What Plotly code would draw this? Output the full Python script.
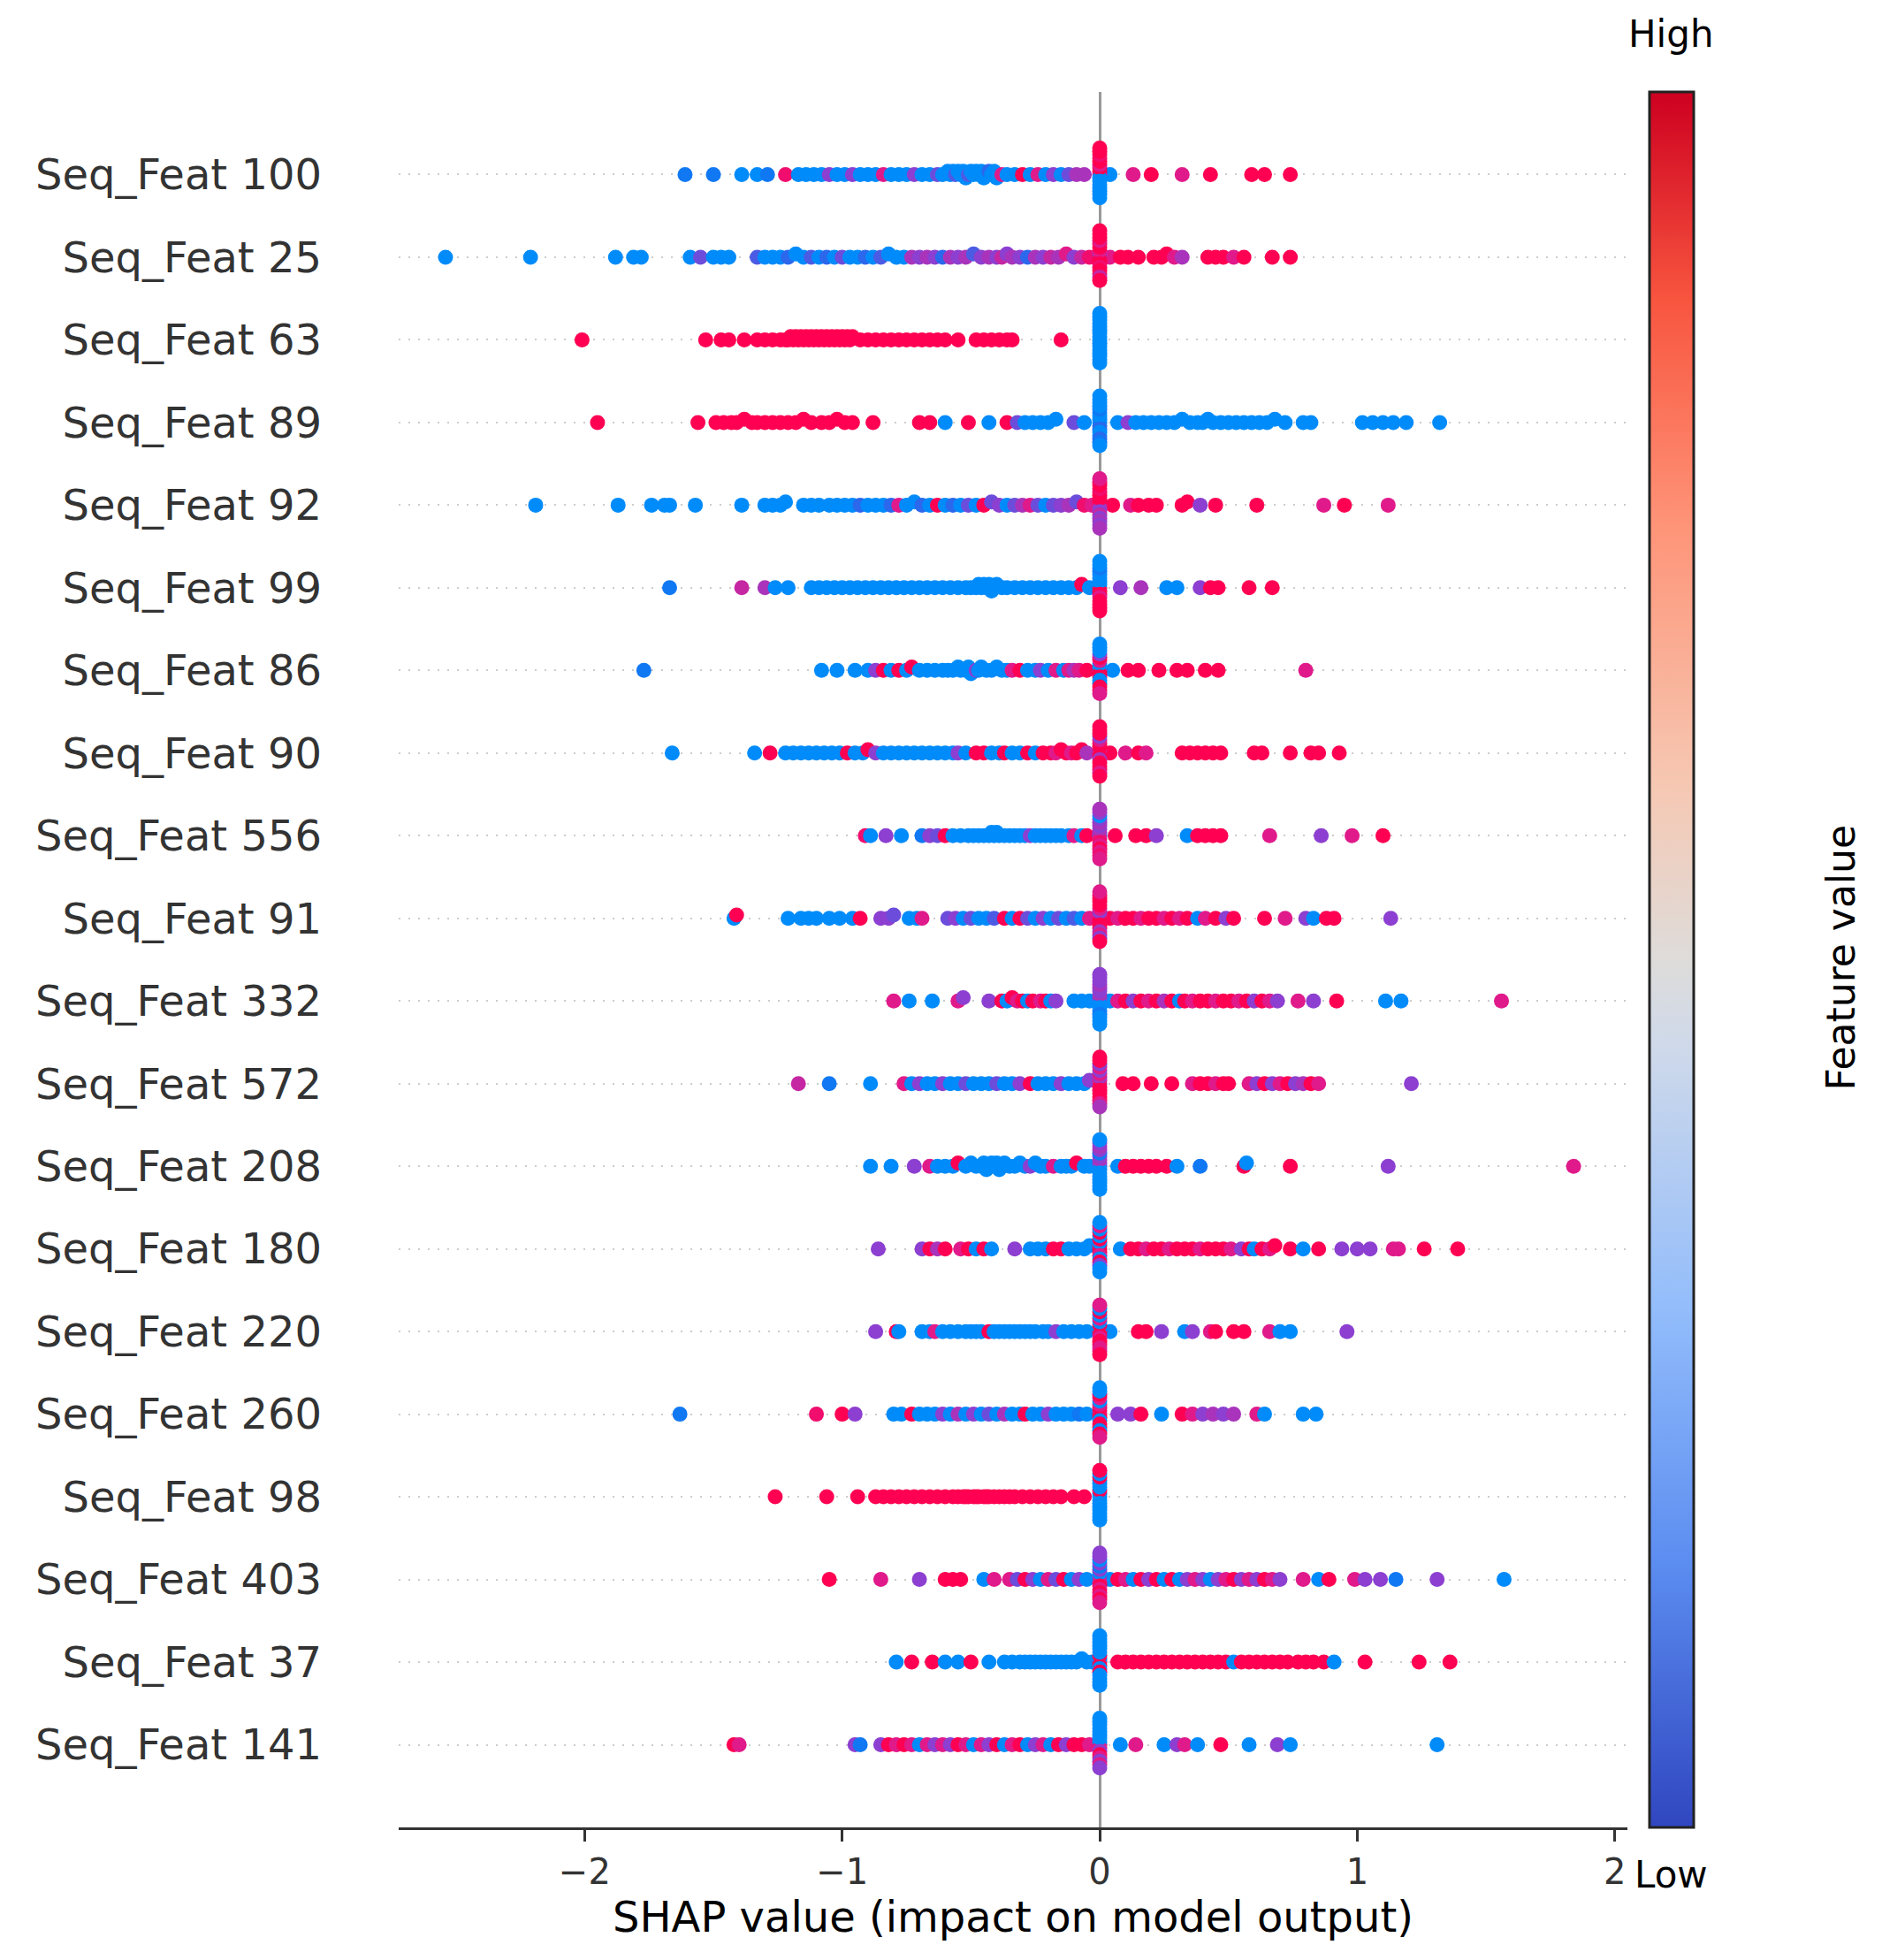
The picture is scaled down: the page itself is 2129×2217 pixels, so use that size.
import numpy as np
import plotly.graph_objects as go

# =========================================================
# Data
# =========================================================
FEATURES = [
    "Seq_Feat 100", "Seq_Feat 25", "Seq_Feat 63", "Seq_Feat 89", "Seq_Feat 92",
    "Seq_Feat 99", "Seq_Feat 86", "Seq_Feat 90", "Seq_Feat 556", "Seq_Feat 91",
    "Seq_Feat 332", "Seq_Feat 572", "Seq_Feat 208", "Seq_Feat 180", "Seq_Feat 220",
    "Seq_Feat 260", "Seq_Feat 98", "Seq_Feat 403", "Seq_Feat 37", "Seq_Feat 141",
]

# (SHAP value, feature value on a 0-10 scale) for samples with a non-zero impact
F100 = [(-1.61,1),(-1.50,1),(-1.39,0),(-1.33,0),(-1.29,1),(-1.22,9),
        (-1.17,0),(-1.14,0),(-1.11,0),(-1.08,0),(-1.05,5),(-1.02,0),(-0.99,0),(-0.96,5),(-0.93,0),(-0.90,0),
        (-0.87,0),(-0.84,8),(-0.81,0),(-0.78,0),(-0.75,0),(-0.72,5),(-0.69,0),(-0.66,0),(-0.63,4),(-0.61,0),
        (-0.59,0),(-0.58,0),(-0.57,0),(-0.56,3),(-0.55,0),(-0.54,0),(-0.53,0),(-0.52,0),(-0.51,3),(-0.50,0),
        (-0.49,0),(-0.48,0),(-0.47,0),(-0.46,0),(-0.45,0),(-0.44,0),(-0.43,2),(-0.42,0),(-0.41,0),(-0.40,0),
        (-0.38,8),(-0.36,0),(-0.33,0),(-0.30,10),(-0.27,0),(-0.24,8),(-0.21,0),(-0.18,5),(-0.15,0),(-0.12,4),
        (-0.09,6),(-0.06,6),
        (0.04,0),(0.13,8),(0.20,10),(0.32,8),(0.43,10),(0.59,10),(0.64,10),(0.74,10)]
F25 = [(-2.54,0),(-2.21,0),(-1.88,0),(-1.81,0),(-1.78,0),(-1.59,0),(-1.55,4),(-1.50,0),(-1.47,0),(-1.44,0),
       (-1.33,3),(-1.30,0),(-1.27,0),(-1.24,0),(-1.21,2),(-1.18,0),(-1.15,0),(-1.12,3),(-1.09,0),(-1.06,2),
       (-1.03,0),(-1.00,4),(-0.97,0),(-0.94,0),(-0.91,2),(-0.88,0),(-0.85,3),(-0.82,0),(-0.79,0),(-0.76,0),
       (-0.73,6),(-0.70,5),(-0.67,6),(-0.64,5),(-0.61,2),(-0.58,6),(-0.55,5),(-0.52,6),(-0.49,3),(-0.46,5),
       (-0.43,6),(-0.40,5),(-0.38,7),(-0.36,5),(-0.34,6),(-0.31,5),(-0.28,2),(-0.25,6),(-0.22,5),(-0.19,7),
       (-0.16,6),(-0.13,8),(-0.10,5),(-0.07,7),(-0.04,9),
       (0.04,8),(0.08,10),(0.11,10),(0.15,10),(0.21,10),(0.24,10),(0.26,10),(0.29,8),(0.32,6),(0.42,10),
       (0.45,10),(0.48,10),(0.52,8),(0.56,10),(0.67,10),(0.74,10)]
F63 = [(-2.01,10),(-1.53,10),(-1.47,10),(-1.44,10),(-1.38,10),(-1.33,10),(-1.30,10),(-1.27,10),(-1.24,10),
       (-1.22,10),(-1.21,10),(-1.20,10),(-1.19,10),(-1.18,10),(-1.17,10),(-1.16,10),(-1.15,10),(-1.14,10),
       (-1.13,10),(-1.12,10),(-1.11,10),(-1.10,10),(-1.09,10),(-1.08,10),(-1.07,10),(-1.06,10),(-1.05,10),
       (-1.04,10),(-1.03,10),(-1.02,10),(-1.01,10),(-1.00,10),(-0.99,10),(-0.98,10),(-0.97,10),(-0.96,10),
       (-0.93,10),(-0.90,10),(-0.87,10),(-0.84,10),(-0.81,10),(-0.78,10),(-0.75,10),(-0.72,10),(-0.69,10),
       (-0.66,10),(-0.63,10),(-0.60,10),(-0.55,10),(-0.48,10),(-0.45,10),(-0.42,10),(-0.39,10),(-0.36,10),
       (-0.34,10),(-0.15,10)]
F89 = [(-1.95,10),(-1.56,10),(-1.49,10),(-1.46,10),(-1.43,10),(-1.41,10),(-1.38,10),(-1.35,10),(-1.33,10),
       (-1.30,10),(-1.27,10),(-1.24,10),(-1.21,10),(-1.18,10),(-1.15,10),(-1.12,10),(-1.08,10),(-1.05,10),
       (-1.02,10),(-0.99,10),(-0.96,10),(-0.88,10),(-0.70,10),(-0.66,10),(-0.60,0),(-0.51,10),(-0.43,0),
       (-0.36,10),(-0.32,4),(-0.29,0),(-0.26,0),(-0.23,0),(-0.20,0),(-0.17,0),(-0.10,4),(-0.06,0),
       (0.07,0),(0.11,5),(0.14,0),(0.17,0),(0.20,0),(0.23,0),(0.26,0),(0.29,0),(0.32,0),(0.35,0),(0.38,0),
       (0.40,0),(0.42,0),(0.44,0),(0.47,0),(0.50,0),(0.53,0),(0.56,0),(0.59,0),(0.62,0),(0.65,0),(0.68,0),
       (0.72,0),(0.79,0),(0.82,0),(1.02,0),(1.06,0),(1.10,0),(1.14,0),(1.19,0),(1.32,0)]
F92 = [(-2.19,0),(-1.87,0),(-1.74,0),(-1.69,0),(-1.67,0),(-1.57,0),(-1.39,0),(-1.30,0),(-1.27,0),(-1.24,0),
       (-1.22,0),(-1.15,0),(-1.12,0),(-1.09,0),(-1.05,0),(-1.02,0),(-0.99,0),(-0.96,0),(-0.93,2),(-0.90,0),
       (-0.87,0),(-0.84,0),(-0.81,2),(-0.78,8),(-0.75,0),(-0.72,0),(-0.69,2),(-0.66,0),(-0.63,10),(-0.60,0),
       (-0.57,2),(-0.54,0),(-0.51,4),(-0.48,0),(-0.45,10),(-0.42,4),(-0.39,5),(-0.36,0),(-0.33,4),(-0.30,6),
       (-0.27,8),(-0.24,4),(-0.21,0),(-0.18,4),(-0.15,5),(-0.12,6),(-0.09,4),(-0.06,9),(-0.03,8),
       (0.05,10),(0.12,8),(0.15,10),(0.19,10),(0.22,10),(0.32,10),(0.34,10),(0.39,5),(0.45,10),(0.61,10),
       (0.87,8),(0.95,10),(1.12,8)]
F99 = [(-1.67,1),(-1.39,7),(-1.30,6),(-1.26,0),(-1.21,0),
       (-1.12,0),(-1.09,0),(-1.06,0),(-1.03,0),(-1.00,0),(-0.97,0),(-0.94,0),(-0.91,0),(-0.88,0),(-0.85,0),
       (-0.82,0),(-0.79,0),(-0.76,0),(-0.73,0),(-0.70,0),(-0.67,0),(-0.64,0),(-0.61,0),(-0.58,0),(-0.55,0),
       (-0.52,0),(-0.50,0),(-0.48,0),(-0.47,0),(-0.46,0),(-0.45,0),(-0.44,0),(-0.43,0),(-0.42,0),(-0.41,0),
       (-0.40,0),(-0.38,0),(-0.36,0),(-0.33,0),(-0.30,0),(-0.27,0),(-0.24,0),(-0.21,0),(-0.18,0),(-0.15,0),
       (-0.12,0),(-0.09,0),(-0.07,10),(-0.04,0),
       (0.08,5),(0.16,6),(0.26,0),(0.30,0),(0.39,5),(0.43,10),(0.46,10),(0.58,10),(0.67,10)]
F86 = [(-1.77,1),(-1.08,0),(-1.02,0),(-0.95,0),(-0.90,0),(-0.87,5),(-0.84,10),(-0.81,0),(-0.78,10),(-0.75,0),
       (-0.73,10),(-0.70,0),(-0.67,0),(-0.64,0),(-0.61,0),(-0.59,0),(-0.57,0),(-0.55,0),(-0.54,0),(-0.52,0),
       (-0.51,0),(-0.50,0),(-0.48,5),(-0.47,0),(-0.46,0),(-0.44,0),(-0.42,0),(-0.40,0),(-0.38,0),(-0.36,0),
       (-0.34,8),(-0.31,10),(-0.28,0),(-0.25,0),(-0.23,5),(-0.20,0),(-0.17,8),(-0.14,0),(-0.12,8),(-0.10,6),
       (-0.08,8),(-0.05,10),
       (0.05,0),(0.11,10),(0.15,10),(0.23,10),(0.30,10),(0.34,10),(0.41,10),(0.46,10),(0.80,8)]
F90 = [(-1.66,0),(-1.34,0),(-1.28,10),(-1.22,0),(-1.19,0),(-1.16,0),(-1.13,0),(-1.10,0),(-1.07,0),(-1.04,0),
       (-1.01,0),(-0.98,10),(-0.95,0),(-0.92,0),(-0.90,10),(-0.87,5),(-0.84,0),(-0.81,0),(-0.78,0),(-0.75,0),
       (-0.72,0),(-0.69,0),(-0.66,0),(-0.63,0),(-0.60,0),(-0.57,0),(-0.55,5),(-0.52,0),(-0.48,10),(-0.45,10),
       (-0.42,0),(-0.39,0),(-0.37,10),(-0.34,0),(-0.31,0),(-0.28,10),(-0.25,0),(-0.22,10),(-0.19,10),(-0.17,8),
       (-0.15,10),(-0.13,10),(-0.11,8),(-0.09,10),(-0.07,10),(-0.05,6),
       (0.04,10),(0.10,8),(0.15,10),(0.18,8),(0.32,10),(0.35,10),(0.38,10),(0.41,10),(0.44,10),(0.47,10),
       (0.60,10),(0.63,10),(0.74,10),(0.82,10),(0.85,10),(0.93,10)]
F556 = [(-0.91,9),(-0.89,0),(-0.83,5),(-0.77,0),(-0.69,1),(-0.66,5),(-0.63,4),(-0.60,10),(-0.57,0),(-0.54,0),
        (-0.51,0),(-0.49,0),(-0.47,0),(-0.45,0),(-0.43,0),(-0.42,0),(-0.41,0),(-0.40,0),(-0.39,0),(-0.37,0),
        (-0.35,0),(-0.33,0),(-0.31,0),(-0.29,0),(-0.27,5),(-0.25,0),(-0.23,0),(-0.21,0),(-0.19,0),(-0.17,0),
        (-0.15,0),(-0.12,0),(-0.10,8),(-0.07,0),(-0.05,10),
        (0.06,10),(0.14,10),(0.18,10),(0.22,5),(0.34,0),(0.38,10),(0.41,10),(0.44,10),(0.47,10),(0.66,8),
        (0.86,5),(0.98,8),(1.10,10)]
F91 = [(-1.42,0),(-1.41,10),(-1.21,0),(-1.16,0),(-1.13,0),(-1.10,0),(-1.05,0),(-1.01,0),(-0.96,0),(-0.93,10),
       (-0.85,5),(-0.82,5),(-0.80,4),(-0.74,0),(-0.71,0),(-0.69,8),
       (-0.59,4),(-0.56,5),(-0.53,0),(-0.50,4),(-0.47,0),(-0.44,0),(-0.41,3),(-0.37,10),(-0.34,0),(-0.31,10),
       (-0.28,4),(-0.25,0),(-0.22,5),(-0.19,0),(-0.16,4),(-0.13,0),(-0.10,3),(-0.07,0),(-0.04,8),
       (0.04,10),(0.07,8),(0.10,10),(0.13,10),(0.16,8),(0.19,10),(0.22,10),(0.25,8),(0.28,10),(0.31,8),
       (0.34,10),(0.38,0),(0.41,8),(0.45,10),(0.49,5),(0.52,10),(0.64,10),(0.72,8),(0.80,5),(0.83,0),
       (0.88,10),(0.91,10),(1.13,5)]
F332 = [(-0.80,8),(-0.74,0),(-0.65,0),(-0.55,8),(-0.53,5),(-0.43,5),(-0.38,10),(-0.36,0),(-0.34,10),(-0.32,8),
        (-0.30,10),(-0.28,0),(-0.26,10),(-0.23,8),(-0.21,10),(-0.19,0),(-0.17,5),(-0.10,0),(-0.07,0),(-0.04,0),
        (0.04,0),(0.07,8),(0.10,10),(0.13,5),(0.16,10),(0.19,8),(0.22,10),(0.25,6),(0.28,10),(0.31,0),
        (0.33,10),(0.36,8),(0.39,10),(0.42,10),(0.45,8),(0.48,10),(0.51,10),(0.54,8),(0.57,10),(0.60,5),
        (0.63,10),(0.66,8),(0.69,5),(0.77,8),(0.83,5),(0.92,10),(1.11,0),(1.17,0),(1.56,8)]
F572 = [(-1.17,7),(-1.05,1),(-0.89,0),(-0.76,8),(-0.73,0),(-0.70,5),(-0.67,0),(-0.64,0),(-0.61,5),(-0.58,0),
        (-0.55,0),(-0.52,4),(-0.49,0),(-0.46,0),(-0.43,0),(-0.40,4),(-0.37,0),(-0.34,0),(-0.31,5),(-0.27,10),
        (-0.24,0),(-0.21,0),(-0.18,0),(-0.15,5),(-0.12,0),(-0.09,0),(-0.06,0),(-0.04,5),
        (0.09,10),(0.13,10),(0.20,10),(0.28,10),(0.36,8),(0.39,10),(0.42,10),(0.45,8),(0.48,10),(0.50,10),
        (0.58,8),(0.61,5),(0.64,10),(0.67,5),(0.70,8),(0.73,10),(0.76,5),(0.79,6),(0.82,10),(0.85,8),(1.21,5)]
F208 = [(-0.89,0),(-0.81,0),(-0.72,5),(-0.66,8),(-0.63,0),(-0.60,0),(-0.57,0),(-0.55,10),(-0.52,0),(-0.50,0),
        (-0.48,0),(-0.46,0),(-0.45,0),(-0.44,0),(-0.43,0),(-0.42,0),(-0.41,0),(-0.40,0),(-0.39,0),(-0.38,0),
        (-0.37,0),(-0.35,0),(-0.33,0),(-0.31,0),(-0.29,0),(-0.27,5),(-0.25,0),(-0.23,0),(-0.21,0),(-0.18,8),
        (-0.15,0),(-0.13,0),(-0.11,0),(-0.09,10),(-0.06,0),(-0.04,0),
        (0.07,0),(0.10,10),(0.13,10),(0.16,10),(0.19,10),(0.22,10),(0.26,10),(0.30,0),(0.39,1),(0.56,10),
        (0.57,0),(0.74,10),(1.12,5),(1.84,8)]
F180 = [(-0.86,5),(-0.69,5),(-0.66,10),(-0.63,6),(-0.60,10),(-0.54,8),(-0.51,10),(-0.48,0),(-0.45,10),(-0.42,0),
        (-0.33,5),(-0.27,0),(-0.24,0),(-0.21,0),(-0.18,10),(-0.15,10),(-0.12,0),(-0.09,0),(-0.06,0),(-0.04,0),
        (0.08,0),(0.12,10),(0.15,10),(0.18,8),(0.21,10),(0.24,10),(0.27,8),(0.30,10),(0.33,10),(0.36,10),
        (0.39,8),(0.42,10),(0.45,10),(0.48,10),(0.51,8),(0.55,5),(0.58,10),(0.60,0),(0.63,10),(0.66,8),
        (0.68,10),(0.74,10),(0.79,0),(0.85,10),(0.94,5),(1.00,5),(1.05,5),(1.14,8),(1.16,8),(1.26,10),(1.39,10)]
F220 = [(-0.87,5),(-0.79,10),(-0.78,0),(-0.69,0),(-0.66,0),(-0.64,8),(-0.61,0),(-0.58,0),(-0.55,0),(-0.52,0),
        (-0.50,0),(-0.48,0),(-0.46,0),(-0.43,10),(-0.41,0),(-0.39,0),(-0.37,0),(-0.35,0),(-0.33,0),(-0.31,0),
        (-0.29,0),(-0.27,0),(-0.25,0),(-0.22,0),(-0.20,0),(-0.17,5),(-0.14,0),(-0.11,0),(-0.08,0),(-0.05,0),
        (0.04,0),(0.15,10),(0.18,10),(0.24,5),(0.33,0),(0.36,5),(0.43,8),(0.45,10),(0.52,10),(0.56,10),
        (0.66,8),(0.70,0),(0.74,0),(0.96,5)]
F260 = [(-1.63,1),(-1.10,9),(-1.00,10),(-0.95,5),(-0.80,0),(-0.77,0),(-0.73,10),(-0.70,0),(-0.67,0),(-0.64,0),
        (-0.61,5),(-0.58,0),(-0.55,6),(-0.52,0),(-0.49,5),(-0.46,0),(-0.43,4),(-0.40,0),(-0.37,6),(-0.34,0),
        (-0.31,0),(-0.29,10),(-0.26,0),(-0.23,0),(-0.20,5),(-0.17,0),(-0.14,0),(-0.11,0),(-0.08,1),(-0.05,0),
        (0.07,5),(0.12,5),(0.16,10),(0.24,0),(0.32,10),(0.36,8),(0.40,5),(0.44,6),(0.48,5),(0.52,6),
        (0.61,8),(0.64,0),(0.79,0),(0.84,0)]
F98 = [(-1.26,10),(-1.06,10),(-0.94,10),(-0.87,10),(-0.84,10),(-0.81,10),(-0.78,10),(-0.75,10),(-0.72,10),
       (-0.69,10),(-0.66,10),(-0.63,10),(-0.60,10),(-0.57,10),(-0.55,10),(-0.53,10),(-0.52,10),(-0.51,10),
       (-0.49,10),(-0.48,10),(-0.47,10),(-0.45,10),(-0.44,10),(-0.43,10),(-0.41,10),(-0.39,10),(-0.37,10),
       (-0.35,10),(-0.33,10),(-0.30,10),(-0.27,10),(-0.24,10),(-0.21,10),(-0.18,10),(-0.15,10),(-0.10,10),
       (-0.06,10)]
F403 = [(-1.05,10),(-0.85,8),(-0.70,5),(-0.60,10),(-0.57,10),(-0.54,10),(-0.45,0),(-0.41,8),(-0.35,8),(-0.32,4),
        (-0.29,10),(-0.26,5),(-0.23,0),(-0.20,8),(-0.17,4),(-0.14,10),(-0.11,0),(-0.08,5),(-0.05,0),
        (0.04,0),(0.07,10),(0.10,8),(0.13,0),(0.16,10),(0.19,5),(0.22,10),(0.25,0),(0.28,10),(0.31,0),
        (0.34,5),(0.37,8),(0.40,5),(0.43,0),(0.46,5),(0.49,8),(0.52,10),(0.55,5),(0.58,8),(0.61,5),
        (0.64,10),(0.67,8),(0.70,5),(0.79,8),(0.85,0),(0.89,10),(0.99,8),(1.03,5),(1.09,5),(1.15,1),
        (1.31,5),(1.57,0)]
F37 = [(-0.79,0),(-0.73,10),(-0.65,10),(-0.60,0),(-0.55,0),(-0.50,10),(-0.43,0),(-0.37,0),(-0.34,0),(-0.31,0),
       (-0.29,0),(-0.27,0),(-0.25,0),(-0.23,0),(-0.21,0),(-0.19,0),(-0.17,0),(-0.15,0),(-0.13,0),(-0.11,0),
       (-0.09,0),(-0.07,0),(-0.05,0),(-0.03,0),
       (0.07,10),(0.10,10),(0.13,10),(0.16,10),(0.19,10),(0.22,10),(0.25,10),(0.28,10),(0.31,10),(0.34,10),
       (0.37,10),(0.40,10),(0.43,10),(0.46,10),(0.49,10),(0.52,0),(0.55,10),(0.58,10),(0.61,10),(0.64,10),
       (0.67,10),(0.70,10),(0.73,10),(0.77,10),(0.80,10),(0.83,10),(0.87,10),(0.91,0),(1.03,10),(1.24,10),
       (1.36,10)]
F141 = [(-1.42,10),(-1.40,8),(-0.95,5),(-0.93,1),(-0.85,5),(-0.82,10),(-0.79,8),(-0.76,10),(-0.73,8),(-0.70,0),
        (-0.67,8),(-0.64,5),(-0.61,8),(-0.58,5),(-0.55,10),(-0.52,8),(-0.49,0),(-0.46,8),(-0.43,5),(-0.40,10),
        (-0.37,0),(-0.34,8),(-0.31,10),(-0.28,0),(-0.25,5),(-0.22,8),(-0.19,0),(-0.16,10),(-0.13,5),(-0.10,10),
        (-0.07,10),(-0.04,8),
        (0.08,0),(0.14,8),(0.25,0),(0.30,5),(0.33,8),(0.38,0),(0.47,10),(0.58,0),(0.69,5),(0.74,0),(1.31,0)]

# feature values (0-10) of the samples whose SHAP value is exactly 0, in stacking order
Z100 = [6,10,0,10,0,8,0,10,0,10,0,9,0,10,0,10]
Z25 = [10,6,10,8,10,10,9,10,10,8,10,10,7,10,10,10]
Z63 = [0,0,0,0,0,0,0,0,0,0,0,0,0,0,0,0]
Z89 = [0,0,1,0,2,0,0,1,0,0,2,0,1,0,0,0]
Z92 = [8,10,6,10,5,10,7,10,5,9,6,10,5,10,6,8]
Z99 = [10,0,10,0,10,0,8,0,10,0,10,1,10,0,10,0]
Z86 = [8,0,10,0,10,8,0,10,0,5,10,0,10,0,8,0]
Z90 = [10,8,10,10,6,10,10,8,10,5,10,10,8,10,10,10]
Z556 = [0,5,8,6,9,5,8,6,10,5,8,0,9,5,8,6]
Z91 = [10,8,10,5,10,8,10,10,6,10,8,10,5,10,10,8]
Z332 = [0,5,0,6,0,5,0,5,1,6,0,5,0,5,0,5]
Z572 = [5,8,10,6,10,8,10,5,10,8,10,5,8,10,6,10]
Z208 = [0,5,0,6,0,5,0,1,0,5,0,6,0,5,0,0]
Z180 = [10,10,10,0,8,10,0,0,10,10,5,0,0,8,0,0]
Z220 = [10,0,10,10,8,0,10,8,10,0,8,10,8,0,10,8]
Z260 = [10,8,10,10,0,8,10,0,10,8,0,10,10,0,8,0]
Z98 = [0,0,0,10,0,0,0,0,0,0,0,10,0,0,0,10]
Z403 = [0,5,8,0,10,5,8,1,10,5,8,0,10,5,8,5]
Z37 = [10,0,10,10,0,0,10,0,0,0,0,0,0,0,0,0]
Z141 = [10,0,8,0,5,0,10,0,8,0,5,0,8,0,5,0]

ROWS = [(F100, Z100), (F25, Z25), (F63, Z63), (F89, Z89), (F92, Z92),
        (F99, Z99), (F86, Z86), (F90, Z90), (F556, Z556), (F91, Z91),
        (F332, Z332), (F572, Z572), (F208, Z208), (F180, Z180), (F220, Z220),
        (F260, Z260), (F98, Z98), (F403, Z403), (F37, Z37), (F141, Z141)]

# shap's red/blue point map and the coolwarm-style bar
POINT_SCALE = [[0.0, "#008bfb"], [0.15, "#1a6ff0"], [0.35, "#5c54e0"], [0.5, "#8c3fd0"],
               [0.65, "#b82eb0"], [0.8, "#e01a8a"], [1.0, "#ff0052"]]
BAR_SCALE = [[0.0, "#3046c0"], [0.15, "#5b8cf0"], [0.3, "#93bdfb"], [0.45, "#cfd9ea"],
             [0.5, "#dedcda"], [0.6, "#f6c8b3"], [0.75, "#fe9478"], [0.88, "#f8553f"], [1.0, "#cd0020"]]

FONT = "DejaVu Sans"


# =========================================================
# Beeswarm stacking, same scheme as shap.summary_plot
# =========================================================
def swarm_offsets(vals, row_height=0.4, nbins=100):
    vals = np.asarray(vals, dtype=float)
    span = vals.max() - vals.min()
    quant = np.round(nbins * (vals - vals.min()) / (span + 1e-8))
    order = np.argsort(quant, kind="stable")
    ys = np.zeros(len(vals))
    layer, last_bin = 0, None
    for ind in order:
        if quant[ind] != last_bin:
            layer = 0
        ys[ind] = np.ceil(layer / 2) * ((layer % 2) * 2 - 1)
        layer += 1
        last_bin = quant[ind]
    ys *= 0.9 * (row_height / np.max(ys + 1))
    return ys


n_rows = len(FEATURES)
xs, ys, cs = [], [], []
for i, (pts, zeros) in enumerate(ROWS):
    shap_vals = [p[0] for p in pts] + [0.0] * len(zeros)
    feat_vals = [p[1] / 10 for p in pts] + [z / 10 for z in zeros]
    pos = n_rows - 1 - i
    off = swarm_offsets(shap_vals)
    xs.extend(shap_vals)
    ys.extend(pos + off)
    cs.extend(feat_vals)

fig = go.Figure()
fig.add_trace(go.Scatter(
    x=xs, y=ys, mode="markers", showlegend=False, hoverinfo="x",
    marker=dict(size=17, color=cs, colorscale=POINT_SCALE, cmin=0, cmax=1,
                line=dict(width=0), opacity=1, showscale=False),
))
# colour bar
fig.add_trace(go.Scatter(
    x=[None], y=[None], mode="markers", showlegend=False, hoverinfo="skip",
    marker=dict(color=[0.5], colorscale=BAR_SCALE, cmin=0, cmax=1, showscale=True,
                colorbar=dict(x=1.018, xanchor="left", y=0.5, yanchor="middle",
                              len=1, lenmode="fraction", thickness=50, thicknessmode="pixels",
                              outlinewidth=3, outlinecolor="#222222", xpad=0, ypad=0,
                              showticklabels=False, ticks="")),
))

fig.update_layout(
    width=2113, height=2201,
    margin=dict(l=443, r=280, t=96, b=142),
    plot_bgcolor="white", paper_bgcolor="white",
    font=dict(family=FONT, color="#333333"),
    xaxis=dict(
        range=[-2.722, 2.049], tickvals=[-2, -1, 0, 1, 2],
        showgrid=False, zeroline=True, zerolinecolor="#999999", zerolinewidth=3,
        showline=True, linecolor="#333333", linewidth=3,
        ticks="outside", ticklen=13, tickwidth=3, tickcolor="#333333",
        tickfont=dict(size=40, color="#333333"),
        title=dict(text="SHAP value (impact on model output)", font=dict(size=48, color="black"), standoff=13),
    ),
    yaxis=dict(
        range=[-1, n_rows], tickvals=list(range(n_rows)), ticktext=FEATURES[::-1],
        showgrid=True, gridcolor="#cccccc", gridwidth=2, griddash="2px,9px",
        zeroline=False, showline=False, ticks="",
        tickfont=dict(size=48, color="#333333"), ticklabelstandoff=86,
    ),
    annotations=[
        dict(text="High", x=1.0353, y=1.0335, xref="paper", yref="paper", showarrow=False,
             xanchor="center", yanchor="middle", font=dict(size=42, color="black")),
        dict(text="Low", x=1.0353, y=-0.0275, xref="paper", yref="paper", showarrow=False,
             xanchor="center", yanchor="middle", font=dict(size=42, color="black")),
        dict(text="Feature value", x=1.174, y=0.501, xref="paper", yref="paper", showarrow=False,
             textangle=-90, xanchor="center", yanchor="middle", font=dict(size=44, color="black")),
    ],
)

fig.write_html("out.html")
